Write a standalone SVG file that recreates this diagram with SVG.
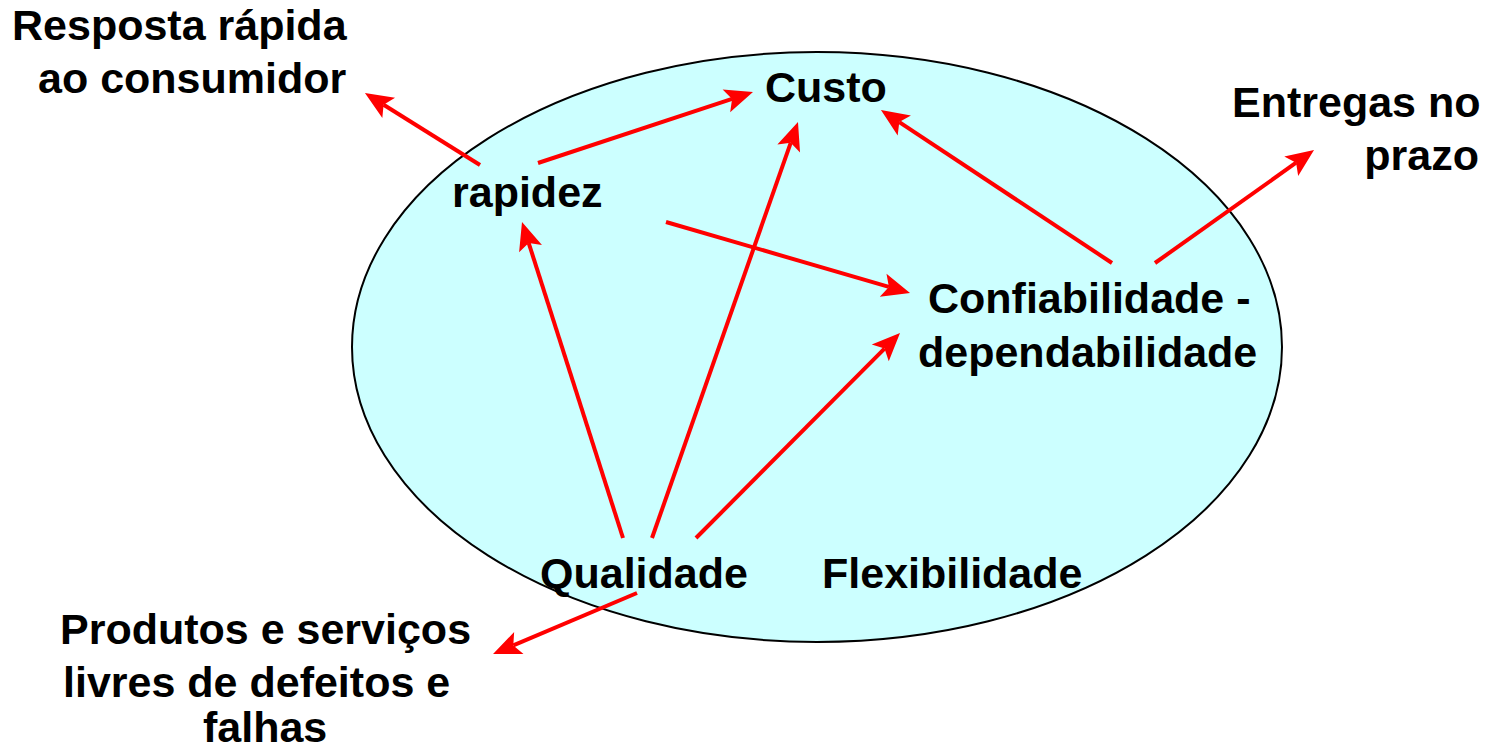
<svg xmlns="http://www.w3.org/2000/svg" width="1492" height="749" viewBox="0 0 1492 749">
<style>
text{font-family:"Liberation Sans",Arial,sans-serif;font-weight:bold;font-size:43px;fill:#000}
.c{stroke:#FF0000;stroke-width:4;fill:none}
</style>
<defs>
<marker id="ah" markerUnits="userSpaceOnUse" markerWidth="40" markerHeight="40" viewBox="-10 -20 40 40" refX="0" refY="0" orient="auto" overflow="visible">
<path d="M22,0 L-6,-12 L0,0 L-6,12 Z" fill="#FF0000"/>
</marker>
</defs>
<rect width="1492" height="749" fill="#fff"/>
<g id="ellipse"><ellipse cx="817" cy="347" rx="465" ry="295" fill="#CCFFFF" stroke="#000" stroke-width="2"/></g>
<g id="connectors">
<line class="c" x1="480" y1="165" x2="383.6" y2="104.7" marker-end="url(#ah)"/>
<line class="c" x1="538" y1="163" x2="732.1" y2="98.9" marker-end="url(#ah)"/>
<line class="c" x1="666" y1="222" x2="888.9" y2="286.9" marker-end="url(#ah)"/>
<line class="c" x1="623" y1="538" x2="528.7" y2="243" marker-end="url(#ah)"/>
<line class="c" x1="652" y1="538" x2="790.7" y2="142.8" marker-end="url(#ah)"/>
<line class="c" x1="696" y1="538" x2="884.5" y2="348.6" marker-end="url(#ah)"/>
<line class="c" x1="637" y1="593" x2="513.3" y2="645.4" marker-end="url(#ah)"/>
<line class="c" x1="1112" y1="263" x2="899.3" y2="122.1" marker-end="url(#ah)"/>
<line class="c" x1="1155" y1="263" x2="1296.1" y2="162.7" marker-end="url(#ah)"/>
</g>
<g id="custo"><text x="765" y="102">Custo</text></g>
<g id="rapidez"><text x="452" y="207">rapidez</text></g>
<g id="confiabilidade"><text x="928" y="313">Confiabilidade -</text><text x="918" y="367">dependabilidade</text></g>
<g id="qualidade"><text x="540" y="588">Qualidade</text></g>
<g id="flexibilidade"><text x="822" y="588">Flexibilidade</text></g>
<g id="resposta"><text x="12" y="40">Resposta rápida</text><text x="38" y="93">ao consumidor</text></g>
<g id="entregas"><text x="1232" y="117">Entregas no</text><text x="1479" y="170" text-anchor="end">prazo</text></g>
<g id="produtos"><text x="60" y="644">Produtos e serviços</text><text x="63" y="697">livres de defeitos e</text><text x="203" y="742">falhas</text></g>
</svg>
